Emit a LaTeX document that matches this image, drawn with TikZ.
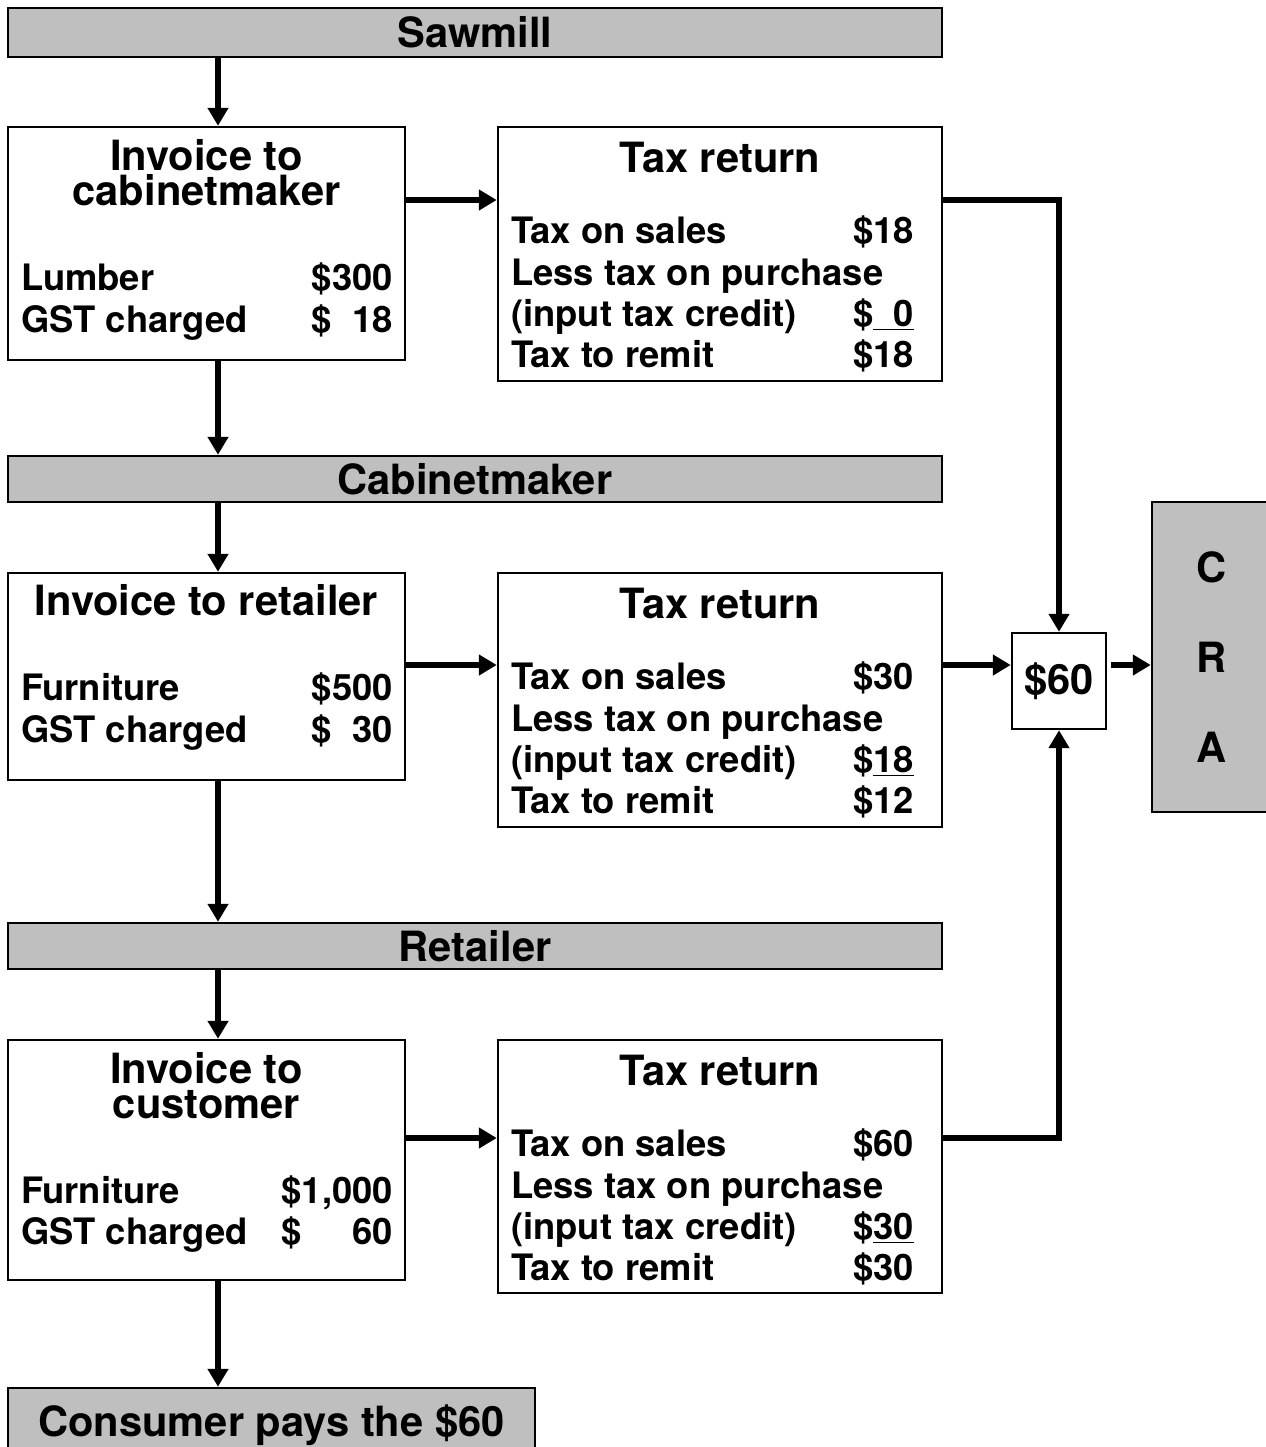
\documentclass[tikz,border=0pt]{standalone}
\usepackage{fontspec}
\setmainfont{TeX Gyre Heros}
\usetikzlibrary{arrows.meta}
\definecolor{barfill}{gray}{0.75}
\newcommand{\headfont}{\fontsize{23.7}{19.9}\selectfont\bfseries}
\newcommand{\bodyfont}{\fontsize{20.7}{23.6}\selectfont\bfseries}
\tikzset{
	box/.style={draw,line width=1.4pt,rectangle,inner sep=0pt},
	bar/.style={box,fill=barfill,font=\headfont,text height=0.6cm,text depth=0pt},
	conn/.style={line width=3pt,-{Triangle[length=0.36cm,width=0.4cm]}},
	head/.style={font=\headfont,inner sep=0pt},
	body/.style={font=\bodyfont,inner sep=0pt}
}
\begin{document}
\begin{tikzpicture}
		\useasboundingbox (0,0) rectangle (25.32,-28.94);
		\path (4.36,0) coordinate (spine);
		% bars
		\node[bar,minimum width=18.68cm,minimum height=0.98cm] (sawmill) at (9.5,-0.65) {Sawmill};
		\node[bar,minimum width=18.68cm,minimum height=0.92cm] (cabmaker) at (9.5,-9.58) {Cabinetmaker};
		\node[bar,minimum width=18.68cm,minimum height=0.92cm] (retailer) at (9.5,-18.92) {Retailer};
		\node[bar,minimum width=10.54cm,minimum height=1.32cm] (consumer) at (5.43,-28.42) {Consumer pays the \$60};
		% boxes
		\node[box,minimum width=7.94cm,minimum height=4.66cm] (inv1) at (4.13,-4.87) {};
		\node[box,minimum width=7.94cm,minimum height=4.14cm] (inv2) at (4.13,-13.53) {};
		\node[box,minimum width=7.94cm,minimum height=4.8cm] (inv3) at (4.13,-23.2) {};
		\node[box,minimum width=8.88cm,minimum height=5.08cm] (tax1) at (14.4,-5.08) {};
		\node[box,minimum width=8.88cm,minimum height=5.08cm] (tax2) at (14.4,-14.0) {};
		\node[box,minimum width=8.88cm,minimum height=5.06cm] (tax3) at (14.4,-23.33) {};
		\node[box,minimum width=1.88cm,minimum height=1.92cm,font=\headfont] (sum) at (21.18,-13.62) {\$60};
		\node[box,fill=barfill,minimum width=2.4cm,minimum height=6.2cm,font=\fontsize{23.7}{51.2}\selectfont\bfseries,align=center] (cra) at (24.24,-13.14) {C\\R\\A};
		% invoices
		\node[head,anchor=base,align=center] (inv1-h) at ([yshift=-1.60cm]inv1.north) {Invoice to\\cabinetmaker};
		\node[body,anchor=base west] (inv1-l1) at ([shift={(0.28,-3.30)}]inv1.north west) {Lumber};
		\node[body,anchor=base west] (inv1-l2) at ([shift={(0.28,-4.14)}]inv1.north west) {GST charged};
		\node[body,anchor=base east] (inv1-v1) at ([shift={(-0.26,-3.30)}]inv1.north east) {\$300};
		\node[body,anchor=base east] (inv1-v2) at ([shift={(-0.26,-4.14)}]inv1.north east) {\$\hphantom{0}18};
		\node[head,anchor=base] (inv2-h) at ([yshift=-0.88cm]inv2.north) {Invoice to retailer};
		\node[body,anchor=base west] (inv2-l1) at ([shift={(0.28,-2.58)}]inv2.north west) {Furniture};
		\node[body,anchor=base west] (inv2-l2) at ([shift={(0.28,-3.42)}]inv2.north west) {GST charged};
		\node[body,anchor=base east] (inv2-v1) at ([shift={(-0.26,-2.58)}]inv2.north east) {\$500};
		\node[body,anchor=base east] (inv2-v2) at ([shift={(-0.26,-3.42)}]inv2.north east) {\$\hphantom{0}30};
		\node[head,anchor=base,align=center] (inv3-h) at ([yshift=-1.60cm]inv3.north) {Invoice to\\customer};
		\node[body,anchor=base west] (inv3-l1) at ([shift={(0.28,-3.30)}]inv3.north west) {Furniture};
		\node[body,anchor=base west] (inv3-l2) at ([shift={(0.28,-4.12)}]inv3.north west) {GST charged};
		\node[body,anchor=base east] (inv3-v1) at ([shift={(-0.26,-3.30)}]inv3.north east) {\$1,000};
		\node[body,anchor=base east] (inv3-v2) at ([shift={(-0.26,-4.12)}]inv3.north east) {\$\hphantom{1,0}60};
		% tax returns
		\foreach \b/\s/\c/\r in {tax1/18/{\hphantom{0}0}/18,tax2/30/18/12,tax3/60/30/30}{
			\node[head,anchor=base] (\b-h) at ([yshift=-0.93cm]\b.north) {Tax return};
			\node[body,anchor=base west] (\b-l1) at ([shift={(0.28,-2.36)}]\b.north west) {Tax on sales};
			\node[body,anchor=base west] (\b-l2) at ([shift={(0.28,-3.20)}]\b.north west) {Less tax on purchase};
			\node[body,anchor=base west] (\b-l3) at ([shift={(0.28,-4.02)}]\b.north west) {(input tax credit)};
			\node[body,anchor=base west] (\b-l4) at ([shift={(0.28,-4.84)}]\b.north west) {Tax to remit};
			\node[body,anchor=base east] (\b-v1) at ([shift={(-0.58,-2.36)}]\b.north east) {\$\s};
			\node[body,anchor=base east] (\b-v3) at ([shift={(-0.58,-4.02)}]\b.north east) {\$\underline{\c}};
			\node[body,anchor=base east] (\b-v4) at ([shift={(-0.58,-4.84)}]\b.north east) {\$\r};
		}
		% down the chain
		\draw[conn] (spine |- sawmill.south) -- (spine |- inv1.north);
		\draw[conn] (spine |- inv1.south) -- (spine |- cabmaker.north);
		\draw[conn] (spine |- cabmaker.south) -- (spine |- inv2.north);
		\draw[conn] (spine |- inv2.south) -- (spine |- retailer.north);
		\draw[conn] (spine |- retailer.south) -- (spine |- inv3.north);
		\draw[conn] (spine |- inv3.south) -- (spine |- consumer.north);
		% over to the returns and the CRA
		\draw[conn] ([yshift=0.87cm]inv1.east) coordinate (a1) -- (a1 -| tax1.west);
		\draw[conn] ([yshift=0.23cm]inv2.east) coordinate (a2) -- (a2 -| tax2.west);
		\draw[conn] ([yshift=0.44cm]inv3.east) coordinate (a3) -- (a3 -| tax3.west);
		\draw[conn] (a1 -| tax1.east) -| (sum.north);
		\draw[conn] (a2 -| tax2.east) -- (a2 -| sum.west);
		\draw[conn] (a3 -| tax3.east) -| (sum.south);
		\draw[conn] ([xshift=0.08cm]a2 -| sum.east) -- (a2 -| cra.west);
\end{tikzpicture}
\end{document}
